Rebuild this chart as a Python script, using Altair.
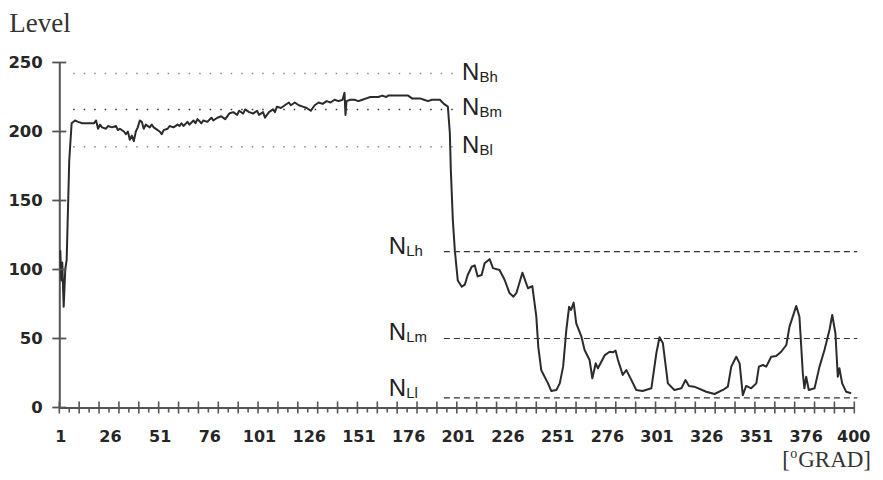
import altair as alt
import pandas as pd

# ---- data ----
deg = [1, 1.5, 2, 2.7, 3.5, 4.2, 5.5, 6.7, 8.4, 10, 12, 14, 16, 18, 19, 20, 21, 22, 24, 25,
       27, 29, 30, 31, 33, 34, 35, 36, 37, 38, 39, 40, 41, 42, 43, 44, 46, 47, 48, 50,
       51, 52, 53, 55, 56, 58, 60, 61, 62, 63, 65, 66, 68, 69, 70, 72, 73, 75, 77, 78,
       80, 82, 84, 86, 88, 90, 91, 93, 94, 96, 98, 100, 101, 103, 104, 106, 108, 109, 110, 112,
       114, 116, 117, 119, 121, 123, 125, 127, 129, 131, 133, 135, 137, 139, 141, 143, 144, 144.5, 145, 147,
       149, 151, 153, 155, 157, 159, 161, 163, 165, 166, 168, 170, 172, 174, 176, 178, 180, 182, 184, 186,
       188, 190, 192, 194, 196, 197, 197.5, 198.5, 199.5, 201, 203, 204.5, 206, 208, 209.5, 211, 213, 214.5, 217, 218.7,
       222, 224.6, 227, 229, 230.5, 233.5, 236.3, 238.5, 240.5, 241.5, 243, 246.4, 248, 250.6, 252.3, 254, 255.6, 257, 258, 259.3,
       260.6, 263.2, 264.8, 267.3, 268.7, 270.4, 271.5, 275, 277.4, 279, 280.4, 281.6, 284, 285.8, 288.3, 290.8, 294, 298.4, 300.9, 302.5,
       304.2, 306.7, 310, 313.5, 315.6, 317.3, 320, 326, 330.2, 334.4, 336.9, 338.6, 341.1, 342.8, 344.4, 346.1, 348.6, 351.2, 352.5, 354.5,
       356.2, 358.7, 361.2, 363.7, 366.3, 367.9, 371.3, 372.9, 374.6, 375.4, 376.3, 377.6, 380.5, 383, 385.5, 388, 389.4, 391, 392.2, 393,
       394.4, 396.4, 398.9]
level = [114, 92, 105, 73, 100, 107, 179, 206, 208, 207, 206, 206, 206, 206, 208, 202, 205, 203, 202, 204,
         203, 204, 201, 202, 200, 198, 200, 194, 197, 193, 200, 203, 208, 207, 202, 205, 203, 205, 203, 201,
         200, 198, 201, 202, 204, 203, 205, 204, 206, 204, 207, 205, 208, 206, 209, 206, 208, 207, 210, 208,
         210, 211, 209, 213, 214, 212, 215, 213, 216, 214, 213, 215, 212, 214, 210, 214, 216, 214, 218, 217,
         219, 221, 219, 221, 219, 218, 217, 215, 219, 221, 220, 222, 221, 223, 222, 223, 228, 212, 222, 223,
         223, 222, 223, 224, 225, 225, 225, 226, 225, 226, 226, 226, 226, 226, 226, 224, 224, 224, 223, 222,
         223, 223, 223, 220, 218, 199, 172, 136, 114, 92, 87.5, 89, 96, 102, 103, 95, 96, 104.5, 107.5, 101,
         99.6, 92.4, 83, 80.3, 83, 97.7, 86.4, 88, 66, 44, 27, 17.5, 12, 12.7, 17.5, 29.6, 56, 73, 70.7, 76,
         61, 51.3, 41.7, 34.4, 21.2, 32, 28.4, 38, 40.4, 40, 41.2, 34.4, 23.6, 27.2, 20, 12.7, 12, 13.9, 39.3, 50.9,
         46.5, 17.5, 12.7, 13.9, 19.9, 15.6, 15.1, 11.4, 9.8, 12.7, 15.1, 29.6, 36.8, 32, 9, 15.6, 13.9, 17.5, 29.6, 30.8,
         29.6, 36.8, 37.3, 40.4, 45.3, 58.6, 73.6, 65.8, 24.8, 13.9, 22.3, 12.7, 13.9, 29.6, 41.7, 56.2, 67, 53.8, 22.3, 28.4,
         17.5, 11.4, 10.3]

x_labels = [1, 26, 51, 76, 101, 126, 151, 176, 201, 226, 251, 276, 301, 326, 351, 376, 400]
y_labels = [0, 50, 100, 150, 200, 250]
major_ticks = [0.5 + 10 * k for k in range(41)]
minor_ticks = [5.5 + 10 * k for k in range(40)]

B_names = ["Bh", "Bm", "Bl"]
B_levels = [242, 216, 189]
L_names = ["Lh", "Lm", "Ll"]
L_levels = [113, 50, 7]
L_label_at = [113, 50, 10]

W, H = 795, 345
INK = "#2b2b2b"
AXC = "#555555"
LAB = "#262626"

xs = alt.Scale(domain=[0.5, 400.5], nice=False, zero=False)
ys = alt.Scale(domain=[0, 250], nice=False, zero=False)

xaxis = alt.Axis(
    values=x_labels, ticks=False, grid=False, title=None,
    labelFont="DejaVu Sans", labelFontWeight="bold", labelFontSize=16, labelColor=LAB,
    labelPadding=21, labelFlush=False, labelOverlap=False,
    domainColor=AXC, domainWidth=2)
yaxis = alt.Axis(
    values=y_labels, ticks=False, grid=False, title=None,
    labelFont="DejaVu Sans", labelFontWeight="bold", labelFontSize=16.5, labelColor=LAB,
    labelPadding=17, labelFlush=False, labelOverlap=False,
    domainColor=AXC, domainWidth=2)


def X(f):
    return alt.X(f, scale=xs, axis=xaxis)


def Y(f):
    return alt.Y(f, scale=ys, axis=yaxis)


df = pd.DataFrame({"deg": deg, "level": level})
dfB = pd.DataFrame({"name": B_names, "level": B_levels})
dfB["x0"], dfB["x1"], dfB["xl"] = 7.5, 200, 203.1
dfL = pd.DataFrame({"name": L_names, "level": L_levels, "at": L_label_at})
dfL["x0"], dfL["x1"], dfL["xl"] = 194, 402, 166.2

line = alt.Chart(df).mark_line(color=INK, strokeWidth=2, strokeJoin="round").encode(
    x=X("deg:Q"), y=Y("level:Q"))

xmaj = alt.Chart(pd.DataFrame({"t": major_ticks})).mark_rule(color=AXC, strokeWidth=1.6).encode(
    x=X("t:Q"), y=alt.value(H - 6), y2=alt.value(H + 6))
xmin = alt.Chart(pd.DataFrame({"t": minor_ticks})).mark_rule(color=AXC, strokeWidth=1.6).encode(
    x=X("t:Q"), y=alt.value(H), y2=alt.value(H + 5))
ytk = alt.Chart(pd.DataFrame({"t": y_labels})).mark_rule(color=AXC, strokeWidth=1.8).encode(
    y=Y("t:Q"), x=alt.value(-7), x2=alt.value(7))

bl = alt.Chart(dfB).mark_rule(strokeWidth=1.5, strokeDash=[1.5, 9]).encode(
    x=X("x0:Q"), x2="x1:Q", y=Y("level:Q"),
    color=alt.condition(alt.datum.name == "Bm", alt.value("#333"), alt.value("#8a8a8a")),
)
ll = alt.Chart(dfL).mark_rule(strokeWidth=1.2, strokeDash=[6, 4], color="#333").encode(
    x=X("x0:Q"), x2="x1:Q", y=Y("level:Q"))

bN = alt.Chart(dfB).mark_text(text="N", align="left", baseline="alphabetic", dy=6,
                              font="Liberation Sans", fontSize=24, color="#222").encode(
    x=X("xl:Q"), y=Y("level:Q"))
bS = alt.Chart(dfB).mark_text(align="left", baseline="alphabetic", dx=17.5, dy=8,
                              font="Liberation Sans", fontSize=15, color="#222").encode(
    x=X("xl:Q"), y=Y("level:Q"), text="name:N")
lN = alt.Chart(dfL).mark_text(text="N", align="left", baseline="alphabetic", dy=2,
                              font="Liberation Sans", fontSize=24, color="#222").encode(
    x=X("xl:Q"), y=Y("at:Q"))
lS = alt.Chart(dfL).mark_text(align="left", baseline="alphabetic", dx=17.5, dy=4,
                              font="Liberation Sans", fontSize=15, color="#222").encode(
    x=X("xl:Q"), y=Y("at:Q"), text="name:N")

level_t = alt.Chart(pd.DataFrame({"t": ["Level"]})).mark_text(
    align="left", baseline="alphabetic", font="Liberation Serif", fontSize=27, color="#333").encode(
    x=alt.value(-50), y=alt.value(-30.5), text="t:N")
grad_t = alt.Chart(pd.DataFrame({"t": ["GRAD]"]})).mark_text(
    align="right", baseline="alphabetic", font="Liberation Serif", fontSize=23, color="#333").encode(
    x=alt.value(811.7), y=alt.value(404.3), text="t:N")
o_t = alt.Chart(pd.DataFrame({"t": ["o"]})).mark_text(
    align="right", baseline="alphabetic", font="Liberation Serif", fontSize=14, color="#333").encode(
    x=alt.value(738), y=alt.value(396), text="t:N")
br_t = alt.Chart(pd.DataFrame({"t": ["["]})).mark_text(
    align="right", baseline="alphabetic", font="Liberation Serif", fontSize=23, color="#333").encode(
    x=alt.value(730.5), y=alt.value(404.3), text="t:N")

chart = alt.layer(line, bl, ll, xmin, xmaj, ytk, bN, bS, lN, lS, level_t, grad_t, o_t, br_t).properties(
    width=W, height=H,
    autosize=alt.AutoSizeParams(type="none"),
    padding={"left": 51.3, "top": 54.5, "right": 20.5, "bottom": 64.3},
    background="white",
).configure_view(stroke=None)

chart.save("out.html", embed_options={"renderer": "svg", "actions": False})
